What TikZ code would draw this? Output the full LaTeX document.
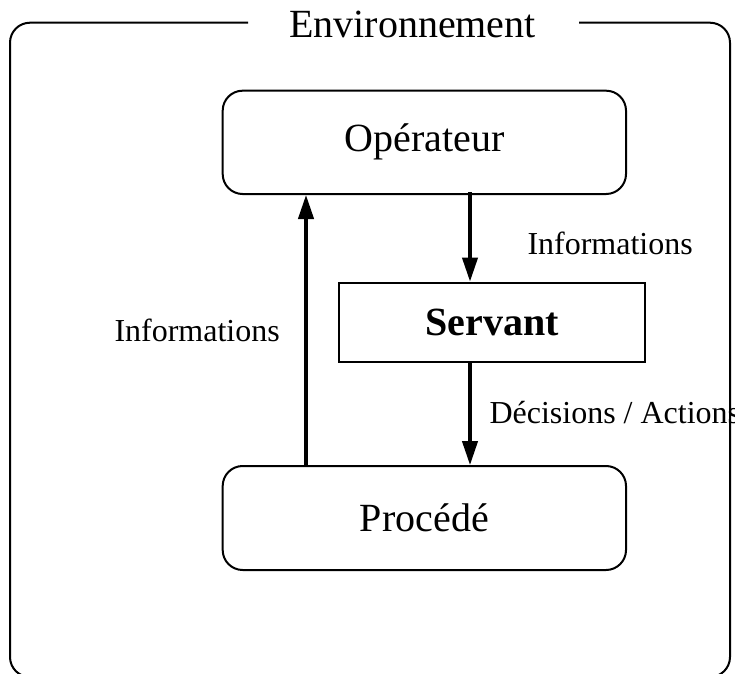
\documentclass[tikz,border=0pt]{standalone}
\usepackage{fontspec}
\setmainfont{Liberation Serif}
\usetikzlibrary{arrows.meta}

\tikzset{every picture/.style={line width=0.75pt}}
\tikzset{
  roundbox/.style={draw, rounded corners=15pt, line width=1.5pt, minimum width=302.5pt, minimum height=77.5pt, inner sep=0pt, font=\fontsize{30}{36}\selectfont},
  servbox/.style={draw, line width=1.8pt, minimum width=229.5pt, minimum height=59.25pt, inner sep=0pt, font=\fontsize{30}{36}\selectfont\bfseries},
  flow/.style={line width=2.4pt, -{Triangle[length=18pt,width=11.5pt]}},
  flowlabel/.style={anchor=base west, inner sep=0pt, font=\fontsize{24}{29}\selectfont},
}

\begin{document}
\begin{tikzpicture}[x=0.75pt,y=0.75pt,yscale=-1,xscale=1]
\useasboundingbox (0,0) rectangle (735,674);

%Rounded Rect frame
\draw [line width=1.5pt, rounded corners=15pt] (248,22.7) -- (10,22.7) -- (10,677) -- (730,677) -- (730,22.7) -- (579,22.7) ;
% Text Node
\node (env) [anchor=base, inner sep=0pt, font=\fontsize{30}{36}\selectfont] at (412.5,38) {Environnement};

%Rounded Rect
\node (operateur) [roundbox] at (424.35,142.35) {Opérateur};
%Rect
\node (servant) [servbox] at (492,322.2) {Servant};
%Rounded Rect
\node (procede) [roundbox, minimum height=78pt] at (424.35,518) {Procédé};

\coordinate (upx) at (306,0);
\coordinate (downx) at (470,0);

%Straight Lines
\draw [flow] (procede.north -| upx) -- (operateur.south -| upx) ;
\draw [flow] ([yshift=-2pt]operateur.south -| downx) -- (servant.north -| downx) ;
\draw [flow] (servant.south -| downx) -- (procede.north -| downx) ;

% Text Node
\node (infoup) [flowlabel] at (527,254) {Informations};
% Text Node
\node (infoleft) [flowlabel] at (114,341.7) {Informations};
% Text Node
\node (decisions) [flowlabel] at (489,423) {Décisions / Actions};

\end{tikzpicture}
\end{document}
